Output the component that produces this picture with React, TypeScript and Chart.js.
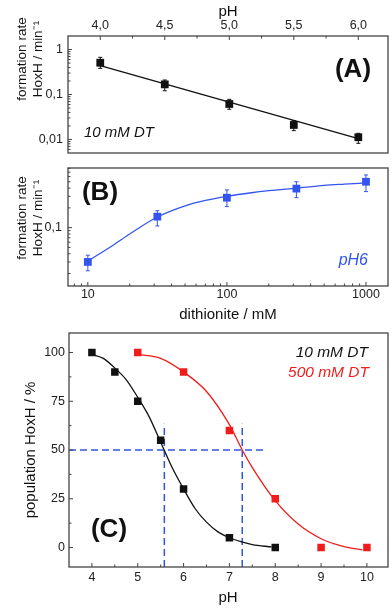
import React, { useEffect, useRef } from 'react';
import { Chart, registerables } from 'chart.js';
Chart.register(...registerables);

const FONT = "'Liberation Sans', Arial, Helvetica, sans-serif";
const BLACK = '#111111';
const BLUE = '#3355ee';
const RED = '#f01c1c';
const DASH_BLUE = '#3355dd';
const FRAME = '#444444';

// ---------- Panel A : rate vs pH (10 mM DT) ----------
const A_PH = [4.0, 4.5, 5.0, 5.5, 6.0];
const A_RATE = [0.509, 0.168, 0.0615, 0.021, 0.0112];
const A_RATE_LO = [0.382, 0.121, 0.0469, 0.0157, 0.0082];
const A_RATE_HI = [0.671, 0.21, 0.078, 0.0262, 0.0137];
const A_FIT_PH = [4.0, 6.0];
const A_FIT_RATE = [0.44, 0.0105];
const A_X_TICKS = [4.0, 4.5, 5.0, 5.5, 6.0];
const A_X_MINOR = [4.25, 4.75, 5.25, 5.75];
const A_Y_TICKS = [0.01, 0.1, 1];
const A_Y_MINOR = [0.006, 0.007, 0.008, 0.009, 0.02, 0.03, 0.04, 0.05, 0.06, 0.07, 0.08, 0.09, 0.2, 0.3, 0.4, 0.5, 0.6, 0.7, 0.8, 0.9];

// ---------- Panel B : rate vs dithionite (pH 6) ----------
const B_DT = [10, 31.6, 100, 316, 1000];
const B_RATE = [0.03, 0.147, 0.286, 0.393, 0.5];
const B_RATE_LO = [0.022, 0.106, 0.209, 0.286, 0.354];
const B_RATE_HI = [0.038, 0.181, 0.376, 0.5, 0.635];
const B_FIT_DT = [10, 15, 20, 31.6, 50, 70, 100, 150, 200, 316, 500, 700, 1000];
const B_FIT_RATE = [0.031, 0.053, 0.08, 0.145, 0.215, 0.26, 0.3, 0.34, 0.365, 0.4, 0.44, 0.46, 0.48];
const B_X_TICKS = [10, 100, 1000];
const B_X_MINOR = [8, 9, 20, 30, 40, 50, 60, 70, 80, 90, 200, 300, 400, 500, 600, 700, 800, 900];
const B_Y_TICKS = [0.1];
const B_Y_MINOR = [0.02, 0.03, 0.04, 0.05, 0.06, 0.07, 0.08, 0.09, 0.2, 0.3, 0.4, 0.5, 0.6, 0.7, 0.8];

// ---------- Panel C : population vs pH ----------
const C_PH_10 = [4, 4.5, 5, 5.5, 6, 7, 8];
const C_POP_10 = [100, 90, 75, 55, 30, 5, 0];
const C_PH_500 = [5, 6, 7, 8, 9, 10];
const C_POP_500 = [100, 90, 60, 25, 0, 0];
const C_FIT10_PH = [4.0, 4.25, 4.5, 4.75, 5.0, 5.25, 5.5, 5.75, 6.0, 6.25, 6.5, 6.75, 7.0, 7.25, 7.5, 7.92];
const C_FIT10_POP = [99, 97, 92, 86, 77, 67, 54, 41, 30, 20, 13, 8, 5, 3, 1.5, 0.3];
const C_FIT500_PH = [5.0, 5.5, 6.0, 6.5, 7.0, 7.28, 7.5, 8.0, 8.5, 9.0, 9.5, 9.9];
const C_FIT500_POP = [99, 97, 90, 80, 63, 50, 41, 24, 12, 4.5, 0.5, -1.2];
const C_MID_PH = [5.58, 7.28];
const C_MID_TOP = 63.5;
const C_HALF = 50;
const C_HALF_X = [3.5, 7.8];
const C_X_TICKS = [4, 5, 6, 7, 8, 9, 10];
const C_X_MINOR = [4.5, 5.5, 6.5, 7.5, 8.5, 9.5];
const C_Y_TICKS = [0, 25, 50, 75, 100];
const C_Y_MINOR = [12.5, 37.5, 62.5, 87.5];

type TickSpec = { scale: string; side: 'top' | 'bottom' | 'left'; values: number[]; len: number };
type TextItem = {
  text: string; x: number; y: number; size: number;
  style?: string; weight?: string; color?: string; align?: CanvasTextAlign; rotate?: boolean;
};

function pts(xs: number[], ys: number[]) {
  return xs.map((x, i) => ({ x, y: ys[i] }));
}

function fixedSize(size: number, horizontal: boolean) {
  return (s: any) => {
    if (horizontal) s.height = size; else s.width = size;
    s.paddingLeft = 0; s.paddingRight = 0; s.paddingTop = 0; s.paddingBottom = 0;
  };
}

const errorBarPlugin = {
  id: 'errorBars',
  beforeDatasetsDraw(chart: any) {
    const ctx = chart.ctx;
    chart.data.datasets.forEach((ds: any, di: number) => {
      if (!ds.errLo) return;
      const meta = chart.getDatasetMeta(di);
      const xs = chart.scales[meta.xAxisID];
      const ys = chart.scales[meta.yAxisID];
      ctx.save();
      ctx.strokeStyle = ds.errColor;
      ctx.lineWidth = 1;
      ds.data.forEach((p: any, i: number) => {
        const x = xs.getPixelForValue(p.x);
        const y1 = ys.getPixelForValue(ds.errLo[i]);
        const y2 = ys.getPixelForValue(ds.errHi[i]);
        ctx.beginPath();
        ctx.moveTo(x, y1); ctx.lineTo(x, y2);
        ctx.moveTo(x - 2, y1); ctx.lineTo(x + 2, y1);
        ctx.moveTo(x - 2, y2); ctx.lineTo(x + 2, y2);
        ctx.stroke();
      });
      ctx.restore();
    });
  },
};

function overlay(ticks: TickSpec[], texts: TextItem[]) {
  return {
    id: 'overlay',
    afterDraw(chart: any) {
      const ctx = chart.ctx;
      const a = chart.chartArea;
      ctx.save();
      ctx.strokeStyle = FRAME;
      ctx.lineWidth = 1.3;
      ctx.strokeRect(a.left, a.top, a.right - a.left, a.bottom - a.top);
      ctx.lineWidth = 1;
      ctx.beginPath();
      for (const t of ticks) {
        const s = chart.scales[t.scale];
        for (const v of t.values) {
          const p = s.getPixelForValue(v);
          if (t.side === 'top') { ctx.moveTo(p, a.top); ctx.lineTo(p, a.top + t.len); }
          else if (t.side === 'bottom') { ctx.moveTo(p, a.bottom); ctx.lineTo(p, a.bottom - t.len); }
          else { ctx.moveTo(a.left, p); ctx.lineTo(a.left + t.len, p); }
        }
      }
      ctx.stroke();
      for (const t of texts) {
        ctx.save();
        ctx.font = `${t.style || 'normal'} ${t.weight || 'normal'} ${t.size}px ${FONT}`;
        ctx.fillStyle = t.color || '#111';
        ctx.textAlign = t.align || 'center';
        ctx.textBaseline = 'middle';
        ctx.translate(t.x, t.y);
        if (t.rotate) ctx.rotate(-Math.PI / 2);
        ctx.fillText(t.text, 0, 0);
        ctx.restore();
      }
      ctx.restore();
    },
  };
}

function axis(opts: any) {
  const { type, position, min, max, ticks, size, horizontal, fmt, fontSize, padding } = opts;
  return {
    type, position, min, max,
    grid: { display: false, drawTicks: false },
    border: { display: false },
    ticks: {
      padding, color: '#222', autoSkip: false, maxRotation: 0, minRotation: 0,
      font: { family: FONT, size: fontSize },
      callback: (v: any) => fmt(Number(v)),
    },
    afterBuildTicks: (s: any) => { s.ticks = ticks.map((v: number) => ({ value: v })); },
    afterFit: fixedSize(size, horizontal),
  };
}

const comma = (v: number) => String(v).replace('.', ',');

function baseOptions(padding: any, scales: any) {
  return {
    responsive: false,
    animation: false,
    devicePixelRatio: 1,
    events: [],
    layout: { padding, autoPadding: false },
    plugins: { legend: { display: false }, tooltip: { enabled: false } },
    scales,
  };
}

function configA(): any {
  return {
    type: 'scatter',
    data: {
      datasets: [
        {
          data: pts(A_PH, A_RATE), pointStyle: 'rect', pointRadius: 5.5,
          backgroundColor: BLACK, borderColor: BLACK, borderWidth: 0,
          errLo: A_RATE_LO, errHi: A_RATE_HI, errColor: BLACK,
        },
        { data: pts(A_FIT_PH, A_FIT_RATE), showLine: true, pointRadius: 0, borderColor: BLACK, borderWidth: 1.3 },
      ],
    },
    options: baseOptions({ left: 0, right: 4, top: 0, bottom: 609 - 153 }, {
      x: axis({ type: 'linear', position: 'top', min: 3.75, max: 6.23, ticks: A_X_TICKS, size: 36, horizontal: true, fmt: (v: number) => v.toFixed(1).replace('.', ','), fontSize: 12.5, padding: 3 }),
      y: axis({ type: 'logarithmic', position: 'left', min: 0.005, max: 2, ticks: A_Y_TICKS, size: 68, horizontal: false, fmt: comma, fontSize: 12.5, padding: 5 }),
    }),
    plugins: [errorBarPlugin, overlay([
      { scale: 'x', side: 'top', values: A_X_TICKS, len: 4 },
      { scale: 'x', side: 'top', values: A_X_MINOR, len: 2.5 },
      { scale: 'y', side: 'left', values: A_Y_TICKS, len: 4 },
      { scale: 'y', side: 'left', values: A_Y_MINOR, len: 2.5 },
    ], [
      { text: 'pH', x: 228, y: 12, size: 15 },
      { text: 'formation rate', x: 22, y: 59, size: 13.5, rotate: true },
      { text: 'HoxH / min\u207B\u00B9', x: 38, y: 59, size: 13.5, rotate: true },
      { text: '(A)', x: 353, y: 70, size: 26, weight: 'bold' },
      { text: '10 mM DT', x: 84, y: 133, size: 15, style: 'italic', align: 'left' },
    ])],
  };
}

function configB(): any {
  return {
    type: 'scatter',
    data: {
      datasets: [
        {
          data: pts(B_DT, B_RATE), pointStyle: 'rect', pointRadius: 5.5,
          backgroundColor: BLUE, borderColor: BLUE, borderWidth: 0,
          errLo: B_RATE_LO, errHi: B_RATE_HI, errColor: BLUE,
        },
        { data: pts(B_FIT_DT, B_FIT_RATE), showLine: true, pointRadius: 0, borderColor: BLUE, borderWidth: 1.3, cubicInterpolationMode: 'monotone' },
      ],
    },
    options: baseOptions({ left: 0, right: 4, top: 168, bottom: 609 - 286 - 20 }, {
      x: axis({ type: 'logarithmic', position: 'bottom', min: 7.2, max: 1440, ticks: B_X_TICKS, size: 20, horizontal: true, fmt: comma, fontSize: 12.5, padding: 1 }),
      y: axis({ type: 'logarithmic', position: 'left', min: 0.0129, max: 0.81, ticks: B_Y_TICKS, size: 68, horizontal: false, fmt: comma, fontSize: 12.5, padding: 6 }),
    }),
    plugins: [errorBarPlugin, overlay([
      { scale: 'x', side: 'bottom', values: B_X_TICKS, len: 4 },
      { scale: 'x', side: 'bottom', values: B_X_MINOR, len: 2.5 },
      { scale: 'y', side: 'left', values: B_Y_TICKS, len: 4 },
      { scale: 'y', side: 'left', values: B_Y_MINOR, len: 2.5 },
    ], [
      { text: 'formation rate', x: 22, y: 218, size: 13.5, rotate: true },
      { text: 'HoxH / min\u207B\u00B9', x: 38, y: 218, size: 13.5, rotate: true },
      { text: '(B)', x: 100, y: 193, size: 26, weight: 'bold' },
      { text: 'pH6', x: 368, y: 261, size: 16, style: 'italic', align: 'right', color: BLUE },
      { text: 'dithionite / mM', x: 228, y: 315, size: 15 },
    ])],
  };
}

function configC(): any {
  const dash = { showLine: true, pointRadius: 0, borderColor: DASH_BLUE, borderWidth: 1.5, borderDash: [7, 4] };
  return {
    type: 'scatter',
    data: {
      datasets: [
        { data: pts(C_PH_10, C_POP_10), pointStyle: 'rect', pointRadius: 5.3, backgroundColor: BLACK, borderColor: BLACK, borderWidth: 0 },
        { data: pts(C_PH_500, C_POP_500), pointStyle: 'rect', pointRadius: 5.3, backgroundColor: RED, borderColor: RED, borderWidth: 0 },
        { data: pts(C_FIT10_PH, C_FIT10_POP), showLine: true, pointRadius: 0, borderColor: BLACK, borderWidth: 1.3, cubicInterpolationMode: 'monotone' },
        { data: pts(C_FIT500_PH, C_FIT500_POP), showLine: true, pointRadius: 0, borderColor: RED, borderWidth: 1.3, cubicInterpolationMode: 'monotone' },
        { data: pts(C_HALF_X, [C_HALF, C_HALF]), ...dash },
        { data: pts([C_MID_PH[0], C_MID_PH[0]], [-10, C_MID_TOP]), ...dash },
        { data: pts([C_MID_PH[1], C_MID_PH[1]], [-10, C_MID_TOP]), ...dash },
      ],
    },
    options: baseOptions({ left: 0, right: 4, top: 333, bottom: 0 }, {
      x: axis({ type: 'linear', position: 'bottom', min: 3.5, max: 10.46, ticks: C_X_TICKS, size: 42, horizontal: true, fmt: (v: number) => String(v), fontSize: 12.5, padding: 3 }),
      y: axis({ type: 'linear', position: 'left', min: -10, max: 110, ticks: C_Y_TICKS, size: 69, horizontal: false, fmt: (v: number) => String(v), fontSize: 12.5, padding: 4 }),
    }),
    plugins: [overlay([
      { scale: 'x', side: 'bottom', values: C_X_TICKS, len: 4 },
      { scale: 'x', side: 'bottom', values: C_X_MINOR, len: 2.5 },
      { scale: 'y', side: 'left', values: C_Y_TICKS, len: 4 },
      { scale: 'y', side: 'left', values: C_Y_MINOR, len: 2.5 },
    ], [
      { text: 'population HoxH / %', x: 31, y: 450, size: 15, rotate: true },
      { text: '10 mM DT', x: 368, y: 353, size: 15.5, style: 'italic', align: 'right' },
      { text: '500 mM DT', x: 369, y: 373, size: 15.5, style: 'italic', align: 'right', color: RED },
      { text: '(C)', x: 109, y: 530, size: 26, weight: 'bold' },
      { text: 'pH', x: 228, y: 598, size: 15 },
    ])],
  };
}

export default function App() {
  const a = useRef<HTMLCanvasElement>(null);
  const b = useRef<HTMLCanvasElement>(null);
  const c = useRef<HTMLCanvasElement>(null);
  useEffect(() => {
    const charts = [
      new Chart(a.current as any, configA()),
      new Chart(b.current as any, configB()),
      new Chart(c.current as any, configC()),
    ];
    return () => charts.forEach((ch) => ch.destroy());
  }, []);
  const st: React.CSSProperties = { position: 'absolute', left: 0, top: 0, width: 392, height: 609 };
  return (
    <div style={{ position: 'absolute', left: 0, top: 0, width: 392, height: 609, overflow: 'hidden', background: '#fff' }}>
      <canvas ref={a} width={392} height={609} style={st} />
      <canvas ref={b} width={392} height={609} style={st} />
      <canvas ref={c} width={392} height={609} style={st} />
    </div>
  );
}
